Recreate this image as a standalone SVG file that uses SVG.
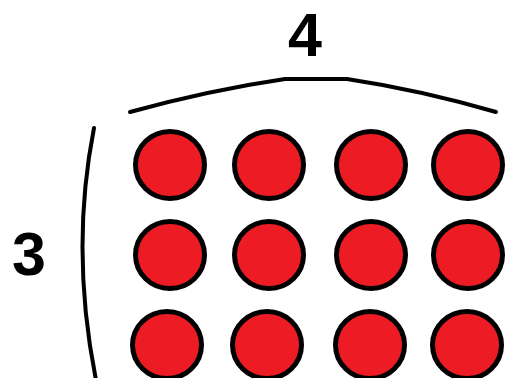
<svg xmlns="http://www.w3.org/2000/svg" width="505" height="378" viewBox="0 0 505 378">
<style>
.dot{fill:#ED1C24;stroke:#000;stroke-width:5}
.br{fill:none;stroke:#000;stroke-width:4;stroke-linecap:round}
.lbl{font-family:"Liberation Sans",Arial,sans-serif;font-weight:bold;font-size:61px;fill:#000;text-anchor:middle}
</style>
<rect width="505" height="378" fill="#fff"/>
<g id="connectors">
<path class="br" d="M130,112 Q210,90 285,79 L347,79 Q420,90 496,112"/>
<path class="br" d="M94,128 Q70,250 96,380"/>
</g>
<g id="label-4"><text class="lbl" x="305" y="56">4</text></g>
<g id="label-3"><text class="lbl" x="29" y="275">3</text></g>
<g id="r1c1"><ellipse class="dot" cx="170" cy="165" rx="34.5" ry="33.5"/></g>
<g id="r1c2"><ellipse class="dot" cx="269" cy="165" rx="34.5" ry="33.5"/></g>
<g id="r1c3"><ellipse class="dot" cx="371" cy="165" rx="34.5" ry="33.5"/></g>
<g id="r1c4"><ellipse class="dot" cx="468" cy="165" rx="34.5" ry="33.5"/></g>
<g id="r2c1"><ellipse class="dot" cx="170" cy="255" rx="34.5" ry="33.5"/></g>
<g id="r2c2"><ellipse class="dot" cx="269" cy="255" rx="34.5" ry="33.5"/></g>
<g id="r2c3"><ellipse class="dot" cx="371" cy="255" rx="34.5" ry="33.5"/></g>
<g id="r2c4"><ellipse class="dot" cx="468" cy="255" rx="34.5" ry="33.5"/></g>
<g id="r3c1"><ellipse class="dot" cx="167" cy="345" rx="34.5" ry="33.5"/></g>
<g id="r3c2"><ellipse class="dot" cx="267" cy="345" rx="34.5" ry="33.5"/></g>
<g id="r3c3"><ellipse class="dot" cx="370" cy="345" rx="34.5" ry="33.5"/></g>
<g id="r3c4"><ellipse class="dot" cx="467" cy="345" rx="34.5" ry="33.5"/></g>
</svg>
